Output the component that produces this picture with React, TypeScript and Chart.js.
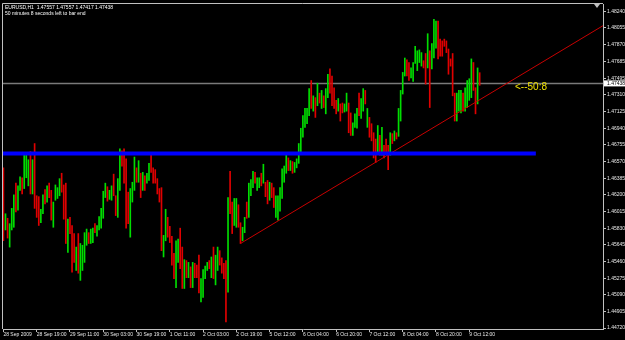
import React, { useEffect, useRef } from 'react';
import { Chart, registerables } from 'chart.js';

Chart.register(...registerables);

// ---- data ----
const symbolInfo = 'EURUSD,H1  1.47557 1.47557 1.47417 1.47438';
const timerInfo = '50 minutes 8 seconds left to bar end';
const countdownText = '<--50:8';
const countdownAt = 246;
const currentPrice = 1.47438;
const supportLevel = 1.4666;
const supportEnd = 256;
const trendStart = { x: 114, y: 1.4566 };
const trendPoint = { x: 248, y: 1.4752 };

const labelEvery = 16;
const timeLabels = [
  '28 Sep 2009', '28 Sep 19:00', '29 Sep 11:00', '30 Sep 03:00', '30 Sep 19:00',
  '1 Oct 11:00', '2 Oct 03:00', '2 Oct 19:00', '5 Oct 12:00', '6 Oct 04:00',
  '6 Oct 20:00', '7 Oct 12:00', '8 Oct 04:00', '8 Oct 20:00', '9 Oct 12:00',
];

const priceTicks = [
  1.4824, 1.48055, 1.4787, 1.47685, 1.47495, 1.4731, 1.47125, 1.4694, 1.46755, 1.4657,
  1.46385, 1.462, 1.46015, 1.4583, 1.45645, 1.4546, 1.45275, 1.4509, 1.44905, 1.4472,
];

const highs = [
  1.4650, 1.4599, 1.4594, 1.4588, 1.4605, 1.4620, 1.4633, 1.4630, 1.4640, 1.4639,
  1.4664, 1.4667, 1.4659, 1.4668, 1.4659, 1.4677, 1.4619, 1.4618, 1.4604, 1.4620,
  1.4626, 1.4630, 1.4633, 1.4625, 1.4612, 1.4631, 1.4628, 1.4638, 1.4644, 1.4631,
  1.4633, 1.4593, 1.4595, 1.4586, 1.4577, 1.4562, 1.4577, 1.4566, 1.4564, 1.4578,
  1.4582, 1.4578, 1.4582, 1.4583, 1.4588, 1.4586, 1.4596,
  1.4605, 1.4624, 1.4633, 1.4629, 1.4625, 1.4630, 1.4643, 1.4619, 1.4638, 1.4671,
  1.4669, 1.4671, 1.4660, 1.4623, 1.4627, 1.4634, 1.4662, 1.4650, 1.4658, 1.4644,
  1.4645, 1.4641, 1.4644, 1.4655, 1.4666, 1.4650, 1.4648, 1.4638, 1.4627, 1.4628,
  1.4575, 1.4604, 1.4595, 1.4585, 1.4574, 1.4555, 1.4569, 1.4571, 1.4583, 1.4562,
  1.4548, 1.4547, 1.4545, 1.4540, 1.4545, 1.4544,
  1.4542, 1.4553, 1.4527, 1.4537, 1.4541, 1.4545, 1.4547, 1.4551, 1.4562, 1.4553,
  1.4562, 1.4558, 1.4550, 1.4544, 1.4547, 1.4617, 1.4646, 1.4612, 1.4616, 1.4616,
  1.4609, 1.4589, 1.4584, 1.4595, 1.4612, 1.4633, 1.4637, 1.4646, 1.4645, 1.4639,
  1.4639, 1.4644, 1.4654, 1.4634, 1.4636, 1.4634, 1.4633, 1.4628, 1.4619, 1.4619,
  1.4628, 1.4649, 1.4652, 1.4667, 1.4661,
  1.4658, 1.4657, 1.4656, 1.4660, 1.4677, 1.4694, 1.4708, 1.4716, 1.4716, 1.4738,
  1.4747, 1.4730, 1.4728, 1.4744, 1.4733, 1.4736, 1.4730, 1.4738, 1.4754, 1.4760,
  1.4752, 1.4739, 1.4725, 1.4727, 1.4721, 1.4722, 1.4721, 1.4733, 1.4722, 1.4711,
  1.4700, 1.4710, 1.4716, 1.4733, 1.4727, 1.4738, 1.4736, 1.4716, 1.4706, 1.4699,
  1.4689, 1.4682, 1.4697, 1.4686, 1.4695, 1.4675, 1.4682, 1.4675, 1.4689, 1.4688,
  1.4691, 1.4689, 1.4716, 1.4736, 1.4756, 1.4772, 1.4770, 1.4767, 1.4761, 1.4767,
  1.4785, 1.4780, 1.4781, 1.4778, 1.4769, 1.4777, 1.4799, 1.4780, 1.4788, 1.4815,
  1.4813, 1.4813, 1.4793, 1.4791, 1.4793, 1.4791, 1.4782, 1.4771, 1.4777, 1.4733,
  1.4733, 1.4736, 1.4736, 1.4733, 1.4739, 1.4747, 1.4749, 1.4771, 1.4767, 1.4739,
  1.4761, 1.47557,
];

const lows = [
  1.4569, 1.4581, 1.4572, 1.4562, 1.4581, 1.4584, 1.4601, 1.4603, 1.4625, 1.4621,
  1.4627, 1.4639, 1.4630, 1.4621, 1.4621, 1.4605, 1.4595, 1.4586, 1.4589, 1.4599,
  1.4610, 1.4612, 1.4617, 1.4592, 1.4584, 1.4614, 1.4616, 1.4619, 1.4623, 1.4593,
  1.4566, 1.4556, 1.4577, 1.4534, 1.4545, 1.4536, 1.4533, 1.4525, 1.4536, 1.4545,
  1.4564, 1.4566, 1.4566, 1.4567, 1.4578, 1.4574, 1.4581,
  1.4583, 1.4594, 1.4617, 1.4613, 1.4615, 1.4614, 1.4619, 1.4597, 1.4595, 1.4625,
  1.4652, 1.4633, 1.4583, 1.4588, 1.4573, 1.4612, 1.4625, 1.4634, 1.4634, 1.4617,
  1.4625, 1.4625, 1.4633, 1.4636, 1.4645, 1.4633, 1.4633, 1.4621, 1.4612, 1.4558,
  1.4551, 1.4569, 1.4573, 1.4567, 1.4542, 1.4527, 1.4517, 1.4545, 1.4538, 1.4516,
  1.4516, 1.4528, 1.4528, 1.4517, 1.4517, 1.4528,
  1.4528, 1.4511, 1.4501, 1.4506, 1.4527, 1.4536, 1.4538, 1.4528, 1.4527, 1.4520,
  1.4536, 1.4542, 1.4533, 1.4527, 1.4479, 1.4512, 1.4599, 1.4577, 1.4586, 1.4584,
  1.4584, 1.4566, 1.4569, 1.4578, 1.4594, 1.4595, 1.4619, 1.4628, 1.4633, 1.4625,
  1.4628, 1.4630, 1.4633, 1.4618, 1.4610, 1.4614, 1.4617, 1.4606, 1.4595, 1.4592,
  1.4602, 1.4616, 1.4634, 1.4644, 1.4647,
  1.4647, 1.4644, 1.4645, 1.4650, 1.4655, 1.4666, 1.4684, 1.4695, 1.4699, 1.4708,
  1.4716, 1.4713, 1.4706, 1.4719, 1.4722, 1.4716, 1.4717, 1.4710, 1.4728, 1.4733,
  1.4719, 1.4716, 1.4710, 1.4713, 1.4702, 1.4711, 1.4712, 1.4713, 1.4689, 1.4686,
  1.4686, 1.4695, 1.4694, 1.4708, 1.4705, 1.4713, 1.4721, 1.4695, 1.4684, 1.4680,
  1.4661, 1.4656, 1.4667, 1.4664, 1.4664, 1.4661, 1.4666, 1.4648, 1.4664, 1.4677,
  1.4680, 1.4682, 1.4685, 1.4702, 1.4732, 1.4752, 1.4752, 1.4747, 1.4750, 1.4746,
  1.4766, 1.4758, 1.4767, 1.4763, 1.4761, 1.4743, 1.4761, 1.4717, 1.4760, 1.4772,
  1.4783, 1.4771, 1.4774, 1.4774, 1.4785, 1.4778, 1.4754, 1.4763, 1.4730, 1.4702,
  1.4702, 1.4713, 1.4711, 1.4713, 1.4713, 1.4717, 1.4725, 1.4728, 1.4736, 1.4710,
  1.4721, 1.47417,
];

// u = bar closed up, d = bar closed down
const dirs =
  'duduuuduud' + 'uuududdduu' + 'dudduuuudd' + 'duddduduuu' + 'uduuduu' +
  'uuuduudduu' + 'dddduuudud' + 'uduudddddd' + 'uudddduudd' + 'ududud' +
  'dduuuududu' + 'uddddudduu' + 'dduuduuudu' + 'ududdudduu' + 'uuuud' +
  'uduuuuuuuu' + 'dudududuud' + 'dddudduudd' + 'uuuduududd' + 'ddududddud' +
  'uduuuudduu' + 'uuuudduduu' + 'uddddddddd' + 'uuuduuuudd' + 'ud';

const xMin = -0.2;
const xMax = 288.3;
const yMin = 1.4471;
const yMax = 1.4832;

const FONT = '"Liberation Sans", Arial, sans-serif';
const UP = '#00dd00';
const DOWN = '#e00000';
const FRAME = '#c0c0c0';

const overlay = {
  id: 'mtOverlay',
  beforeDraw(chart: any) {
    const { ctx, width, height } = chart;
    ctx.save();
    ctx.fillStyle = '#000000';
    ctx.fillRect(0, 0, width, height);
    ctx.restore();
  },
  afterDraw(chart: any) {
    const { ctx, chartArea: a, scales } = chart;
    ctx.save();
    // frame (left & top)
    ctx.strokeStyle = FRAME;
    ctx.lineWidth = 1;
    ctx.beginPath();
    ctx.moveTo(a.left - 0.5, a.bottom);
    ctx.lineTo(a.left - 0.5, a.top - 0.5);
    ctx.lineTo(a.right, a.top - 0.5);
    ctx.stroke();

    // info text
    ctx.fillStyle = '#ffffff';
    ctx.font = `5px ${FONT}`;
    ctx.textBaseline = 'top';
    ctx.textAlign = 'left';
    ctx.fillText(symbolInfo, a.left + 2, a.top + 1.5);
    ctx.fillText(timerInfo, a.left + 2, a.top + 7.5);

    // countdown text
    const py = scales.y.getPixelForValue(currentPrice);
    ctx.fillStyle = '#f0e000';
    ctx.font = `10px ${FONT}`;
    ctx.textBaseline = 'middle';
    ctx.fillText(countdownText, scales.x.getPixelForValue(countdownAt), py + 3.5);

    // shift marker
    ctx.fillStyle = FRAME;
    ctx.beginPath();
    ctx.moveTo(a.right - 9, a.top);
    ctx.lineTo(a.right - 3, a.top);
    ctx.lineTo(a.right - 6, a.top + 4);
    ctx.closePath();
    ctx.fill();

    // current price label
    ctx.fillStyle = '#ffffff';
    ctx.fillRect(a.right + 1, py - 3, chart.width - a.right - 1, 6);
    ctx.fillStyle = '#000000';
    ctx.font = `5px ${FONT}`;
    ctx.textBaseline = 'middle';
    ctx.fillText(currentPrice.toFixed(5), a.right + 4, py + 0.3);
    ctx.restore();
  },
};

export default function App() {
  const canvasRef = useRef<HTMLCanvasElement | null>(null);

  useEffect(() => {
    document.body.style.margin = '0';
    document.body.style.background = '#000';
    const canvas = canvasRef.current;
    if (!canvas) return;

    const barData = highs.map((h, i) => ({ x: i, y: [lows[i], h] }));
    const barColors = highs.map((_, i) => (dirs[i] === 'u' ? UP : DOWN));
    const slope = (trendPoint.y - trendStart.y) / (trendPoint.x - trendStart.x);
    const trendEnd = { x: xMax, y: trendStart.y + slope * (xMax - trendStart.x) };

    const chart = new Chart(canvas, {
      type: 'bar',
      data: {
        datasets: [
          {
            type: 'line',
            data: [
              { x: xMin, y: supportLevel },
              { x: supportEnd, y: supportLevel },
            ],
            borderColor: '#0000ff',
            borderWidth: 4,
            pointRadius: 0,
            order: 1,
          } as any,
          {
            type: 'line',
            data: [trendStart, trendEnd],
            borderColor: '#c80000',
            borderWidth: 1,
            pointRadius: 0,
            order: 2,
          } as any,
          {
            type: 'bar',
            data: barData,
            backgroundColor: barColors,
            borderWidth: 0,
            barThickness: 1,
            order: 5,
          } as any,
          {
            type: 'line',
            data: [
              { x: xMin, y: currentPrice },
              { x: xMax, y: currentPrice },
            ],
            borderColor: '#7a7a7a',
            borderWidth: 1.5,
            pointRadius: 0,
            order: 8,
          } as any,
        ],
      },
      options: {
        animation: false,
        responsive: false,
        events: [],
        layout: { padding: { left: 3, top: 3, right: 0, bottom: 0 } },
        plugins: { legend: { display: false }, tooltip: { enabled: false } },
        scales: {
          x: {
            type: 'linear',
            min: xMin,
            max: xMax,
            offset: false,
            afterBuildTicks: (s: any) => {
              s.ticks = timeLabels.map((_, k) => ({ value: k * labelEvery }));
            },
            afterFit: (s: any) => {
              s.height = 11;
            },
            ticks: {
              autoSkip: false,
              maxRotation: 0,
              minRotation: 0,
              align: 'start',
              padding: 0,
              color: '#e8e8e8',
              font: { size: 5, family: FONT },
              callback: (v: any) => timeLabels[Math.round(Number(v) / labelEvery)] ?? '',
            },
            grid: { drawOnChartArea: false, offset: false, color: FRAME, tickLength: 3 },
            border: { color: FRAME, width: 1 },
          },
          y: {
            type: 'linear',
            position: 'right',
            min: yMin,
            max: yMax,
            afterBuildTicks: (s: any) => {
              s.ticks = priceTicks.map((v) => ({ value: v }));
            },
            afterFit: (s: any) => {
              s.width = 22;
            },
            ticks: {
              autoSkip: false,
              padding: 1,
              color: '#e8e8e8',
              font: { size: 5, family: FONT },
              callback: (v: any) => Number(v).toFixed(5),
            },
            grid: { drawOnChartArea: false, color: FRAME, tickLength: 3 },
            border: { color: FRAME, width: 1 },
          },
        },
      } as any,
      plugins: [overlay],
    });

    return () => chart.destroy();
  }, []);

  return (
    <div style={{ width: 625, height: 340, background: '#000' }}>
      <canvas ref={canvasRef} width={625} height={340} style={{ display: 'block' }} />
    </div>
  );
}
